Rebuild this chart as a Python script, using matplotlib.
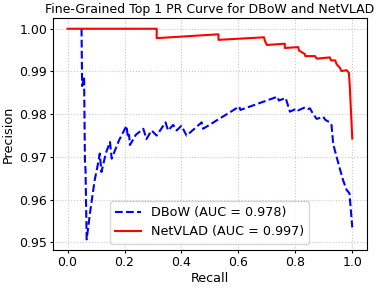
import matplotlib
matplotlib.use("Agg")
import matplotlib.pyplot as plt

# PR curve points
DBOW_RECALL = [0.049, 0.051, 0.058, 0.061, 0.063, 0.067, 0.080, 0.095, 0.108, 0.113,
               0.119, 0.135, 0.149, 0.155, 0.180, 0.207, 0.212, 0.216, 0.219, 0.240,
               0.266, 0.277, 0.295, 0.313, 0.344, 0.353, 0.371, 0.383, 0.400, 0.418,
               0.471, 0.476, 0.603, 0.607, 0.737, 0.742, 0.766, 0.781, 0.804, 0.810,
               0.834, 0.845, 0.851, 0.863, 0.875, 0.898, 0.905, 0.910, 0.921, 0.927,
               0.933, 0.945, 0.956, 0.968, 0.980, 0.990, 1.000]
DBOW_PRECISION = [1.0000, 0.9866, 0.9886, 0.9689, 0.9670, 0.9507, 0.9575, 0.9645, 0.9688, 0.9708,
                  0.9665, 0.9710, 0.9735, 0.9696, 0.9738, 0.9773, 0.9745, 0.9752, 0.9728, 0.9752,
                  0.9766, 0.9742, 0.9762, 0.9750, 0.9781, 0.9762, 0.9775, 0.9762, 0.9773, 0.9750,
                  0.9781, 0.9766, 0.9818, 0.9810, 0.9841, 0.9832, 0.9838, 0.9806, 0.9813, 0.9809,
                  0.9816, 0.9812, 0.9814, 0.9800, 0.9789, 0.9794, 0.9787, 0.9785, 0.9781, 0.9775,
                  0.9730, 0.9700, 0.9673, 0.9645, 0.9623, 0.9615, 0.9535]

NETVLAD_RECALL = [0.0, 0.313, 0.313, 0.530, 0.530, 0.690, 0.693, 0.700, 0.763, 0.763,
                  0.810, 0.813, 0.833, 0.835, 0.869, 0.875, 0.921, 0.925, 0.940, 0.945,
                  0.956, 0.962, 0.980, 0.988, 0.991, 1.000]
NETVLAD_PRECISION = [1.0, 1.0, 0.9978, 0.9987, 0.9974, 0.9980, 0.9972, 0.9962, 0.9965, 0.9955,
                     0.9957, 0.9949, 0.9941, 0.9936, 0.9936, 0.9930, 0.9933, 0.9926, 0.9926, 0.9917,
                     0.9909, 0.9901, 0.9903, 0.9897, 0.9868, 0.9743]

FS = 9.2

fig = plt.figure(figsize=(3.81, 2.89), dpi=100)
ax = fig.add_axes([0.14, 0.135, 0.822, 0.802])
ax.plot(DBOW_RECALL, DBOW_PRECISION, "b--", lw=1.5, label="DBoW (AUC = 0.978)")
ax.plot(NETVLAD_RECALL, NETVLAD_PRECISION, "r-", lw=1.5, label="NetVLAD (AUC = 0.997)")
ax.set_xlabel("Recall", fontsize=FS, labelpad=2)
ax.set_ylabel("Precision", fontsize=FS, labelpad=3)
ax.set_title("Fine-Grained Top 1 PR Curve for DBoW and NetVLAD", fontsize=9.0, pad=4)
ax.tick_params(labelsize=9.0, length=2.5, pad=2)
ax.grid(True, ls=":", color="#c8c8c8", lw=0.8)
ax.legend(loc="lower center", fontsize=FS)
fig.savefig("out.png", dpi=100)
